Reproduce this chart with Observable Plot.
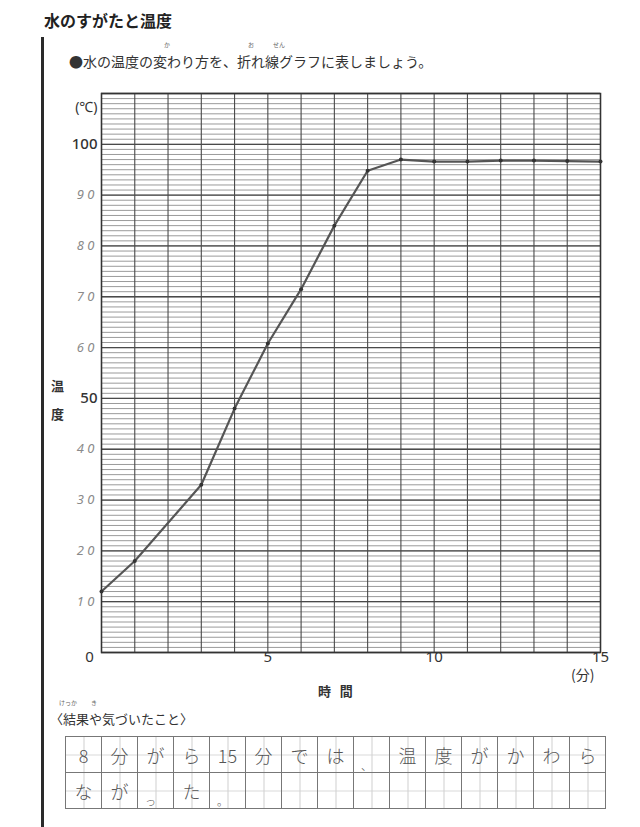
<!DOCTYPE html>
<html><head><meta charset="utf-8">
<script src="https://cdn.jsdelivr.net/npm/d3@7"></script>
<script src="https://cdn.jsdelivr.net/npm/@observablehq/plot@0.6"></script>
<style>
body{margin:0;background:#fff;font-family:"Noto Sans CJK JP","Noto Sans",sans-serif;color:#333;}
#page{position:relative;width:640px;height:827px;overflow:hidden;background:#fff;}
.abs{position:absolute;white-space:nowrap;}
#title{left:44px;top:8px;font-size:16px;font-weight:bold;color:#222;line-height:24px;}
#bar{left:41px;top:37px;width:3px;height:790px;background:#2a2a2a;}
#sub{left:69px;top:53px;font-size:14px;color:#333;line-height:17px;}
.furi{font-size:6px;color:#666;line-height:7px;}
#chart{left:0;top:80px;}
#ylab{left:51px;top:372px;font-size:13px;font-weight:bold;line-height:28px;width:14px;white-space:normal;color:#333;}
#xlab{left:318px;top:681px;font-size:13px;font-weight:bold;color:#333;}
#note{left:50px;top:711px;font-size:13px;color:#333;line-height:16px;}
#box{left:65px;top:736px;border-collapse:collapse;}
#box td{width:35px;height:35px;padding:0;border:1px solid #777;text-align:center;vertical-align:middle;
 font-size:18px;color:#555;font-weight:300;position:relative;
 background-image:
  linear-gradient(to right, transparent calc(50% - 0.5px), #cfcfcf calc(50% - 0.5px), #cfcfcf calc(50% + 0.5px), transparent calc(50% + 0.5px)),
  linear-gradient(to bottom, transparent calc(50% - 0.5px), #d8d8d8 calc(50% - 0.5px), #d8d8d8 calc(50% + 0.5px), transparent calc(50% + 0.5px));}
#box td span.small{font-size:11px;position:relative;top:7px;left:-5px;}
</style>
</head><body>
<div id="page">
  <div id="title" class="abs">水のすがたと温度</div>
  <div id="bar" class="abs"></div>
  <div class="abs furi" style="left:164px;top:41px;">か</div>
  <div class="abs furi" style="left:248px;top:41px;">お</div>
  <div class="abs furi" style="left:273px;top:41px;">せん</div>
  <div id="sub" class="abs">●水の温度の変わり方を、折れ線グラフに表しましょう。</div>
  <div id="chart" class="abs"></div>
  <div id="ylab" class="abs">温<br>度</div>
  <div id="xlab" class="abs">時&nbsp;&nbsp;&nbsp;間</div>
  <div class="abs furi" style="left:59px;top:699px;">けっか</div>
  <div class="abs furi" style="left:91px;top:699px;">き</div>
  <div id="note" class="abs">〈結果や気づいたこと〉</div>
  <table id="box" class="abs"></table>
</div>
<script>
// Data
const minutes = [0, 1, 3, 4, 5, 6, 7, 8, 9, 10, 11, 12, 13, 14, 15];
const temps   = [12, 18, 33, 48, 60.8, 71.5, 84, 94.8, 97, 96.6, 96.6, 96.8, 96.8, 96.7, 96.6];
const printedYTicks = [100, 50];
const handYTicks = [90, 80, 70, 60, 40, 30, 20, 10];
const xTicks = [0, 5, 10, 15];
const answerRow1 = ["8","分","が","ら","15","分","で","は","、","温","度","が","か","わ","ら"];
const answerRow2 = ["な","が","っ","た","。","","","","","","","","","",""];

const data = minutes.map((m, i) => ({minute: m, temp: temps[i]}));

const chart = Plot.plot({
  width: 640,
  height: 630,
  marginLeft: 101,
  marginRight: 40,
  marginTop: 13,
  marginBottom: 58,
  style: {background: "transparent", fontFamily: "'Noto Sans', 'Noto Sans CJK JP', sans-serif"},
  x: {domain: [0, 15], axis: null},
  y: {domain: [0, 110], axis: null},
  marks: [
    Plot.ruleY(d3.range(0, 111, 1), {stroke: "#8f8f8f", strokeWidth: 0.9}),
    Plot.ruleY(d3.range(0, 111, 10), {stroke: "#4a4a4a", strokeWidth: 1.3}),
    Plot.ruleX(d3.range(0, 16, 1), {stroke: "#4a4a4a", strokeWidth: 1.1}),
    Plot.frame({stroke: "#333", strokeWidth: 1.5}),
    Plot.line(data, {x: "minute", y: "temp", stroke: "#555", strokeWidth: 2.2}),
    Plot.dot(data, {x: "minute", y: "temp", r: 2, fill: "#333"}),
    // y labels
    Plot.text(["(℃)"], {frameAnchor: "top-left", dx: -4, dy: 9, textAnchor: "end", fontSize: 14, fill: "#333"}),
    Plot.text(printedYTicks, {x: 0, y: d => d, text: d => String(d), dx: -4, textAnchor: "end", fontSize: 15, fontWeight: 500, fill: "#333"}),
    Plot.text(handYTicks, {x: 0, y: d => d, text: d => String(d).split("").join(" "), dx: -7, textAnchor: "end", fontSize: 13, fontStyle: "italic", fill: "#8a8a8a"}),
    // x labels
    Plot.text(xTicks.slice(0, 1), {x: d => d, frameAnchor: "bottom", dy: 9, dx: -12, text: d => String(d), fontSize: 15, fill: "#333"}),
    Plot.text(xTicks.slice(1), {x: d => d, frameAnchor: "bottom", dy: 9, text: d => String(d), fontSize: 15, fill: "#333"}),
    Plot.text(["(分)"], {frameAnchor: "bottom-right", dy: 27, dx: -6, fontSize: 14, fill: "#333", fontFamily: "'Noto Sans CJK JP', sans-serif"})
  ]
});
document.getElementById("chart").appendChild(chart);

const box = document.getElementById("box");
[answerRow1, answerRow2].forEach(row => {
  const tr = document.createElement("tr");
  row.forEach(ch => {
    const td = document.createElement("td");
    if (["、","。","っ"].includes(ch)) {
      const s = document.createElement("span");
      s.className = "small";
      s.textContent = ch;
      td.appendChild(s);
    } else {
      td.textContent = ch;
    }
    tr.appendChild(td);
  });
  box.appendChild(tr);
});
</script>
</body></html>
